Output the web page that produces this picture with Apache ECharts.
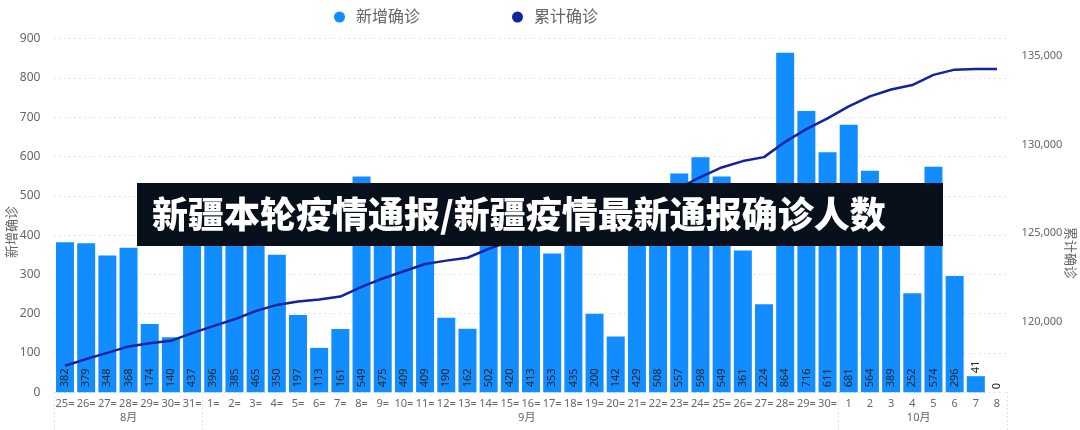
<!DOCTYPE html>
<html>
<head>
<meta charset="utf-8">
<script src="https://cdn.jsdelivr.net/npm/echarts@6/dist/echarts.min.js"></script>
<style>
  html, body { margin: 0; padding: 0; background: #fff; }
  #main { width: 1080px; height: 430px; }
</style>
</head>
<body>
<div id="main"></div>
<script>
// 日期（8月25日 - 10月8日）
var days = ['25=', '26=', '27=', '28=', '29=', '30=', '31=',
    '1=', '2=', '3=', '4=', '5=', '6=', '7=', '8=', '9=', '10=',
    '11=', '12=', '13=', '14=', '15=', '16=', '17=', '18=', '19=', '20=',
    '21=', '22=', '23=', '24=', '25=', '26=', '27=', '28=', '29=', '30=',
    '1', '2', '3', '4', '5', '6', '7', '8'];
var months = ['8月', '9月', '10月'];
var monthCenters = [3, 21.8, 40.3];
var monthBounds = [-0.5, 6.5, 36.5, 44.5];

// 新增确诊
var newCases = [382, 379, 348, 368, 174, 140, 437, 396, 385, 465, 350, 197, 113, 161,
    549, 475, 409, 409, 190, 162, 502, 420, 413, 353, 435, 200, 142, 429, 508, 557,
    598, 549, 361, 224, 864, 716, 611, 681, 564, 389, 252, 574, 296, 41, 0];

// 累计确诊
var totalCases = [117500, 117879, 118227, 118595, 118769, 118909, 119346, 119742, 120127,
    120592, 120942, 121139, 121252, 121413, 121962, 122437, 122846, 123255, 123445,
    123607, 124109, 124529, 124942, 125295, 125730, 125930, 126072, 126501, 127009,
    127566, 128164, 128713, 129074, 129298, 130162, 130878, 131489, 132170, 132734,
    133123, 133375, 133949, 134245, 134286, 134286];

var font = 'Noto Sans, Noto Sans CJK SC, sans-serif';
var grey = '#666';

var barData = newCases.map(function (v) {
    if (v < 100) {
        return { value: v, label: { position: 'top', distance: 3 } };
    }
    return v;
});

var myChart = echarts.init(document.getElementById('main'));

var option = {
    animation: false,
    textStyle: { fontFamily: font },
    legend: {
        left: 329,
        top: 4,
        itemGap: 92,
        icon: 'circle',
        itemWidth: 11,
        itemHeight: 11,
        textStyle: { color: grey, fontSize: 16, fontFamily: font, padding: [0, 0, 0, 6] },
        data: ['新增确诊', '累计确诊']
    },
    grid: {
        left: 54.4,
        right: 72.4,
        top: 38.6,
        bottom: 37.7
    },
    xAxis: [{
        type: 'category',
        data: days,
        axisLine: { show: false },
        axisTick: { show: false },
        axisLabel: { color: grey, fontSize: 11, margin: 6, interval: 0 }
    }, {
        type: 'value',
        position: 'bottom',
        min: -0.5,
        max: 44.5,
        axisLine: { show: false },
        splitLine: { show: false },
        axisTick: {
            show: true,
            customValues: monthBounds,
            length: 38,
            lineStyle: { color: '#ccc', type: [1, 3] }
        },
        axisLabel: {
            customValues: monthCenters,
            color: grey,
            fontSize: 11,
            margin: 20,
            formatter: function (v) {
                return months[monthCenters.indexOf(v)];
            }
        }
    }],
    yAxis: [{
        type: 'value',
        min: 0,
        max: 900,
        interval: 100,
        axisLine: { show: false },
        axisTick: { show: false },
        axisLabel: { color: grey, fontSize: 12, margin: 14 },
        splitLine: { lineStyle: { color: '#ccc', type: [1, 4] } }
    }, {
        type: 'value',
        min: 116000,
        max: 136000,
        interval: 1000,
        axisLine: { show: false },
        axisTick: { show: false },
        splitLine: { show: false },
        axisLabel: {
            color: grey,
            fontSize: 11,
            margin: 14,
            formatter: function (v) {
                return v % 5000 === 0 ? echarts.format.addCommas(v) : '';
            }
        }
    }],
    series: [{
        name: '新增确诊',
        type: 'bar',
        data: barData,
        barWidth: 18,
        itemStyle: { color: '#118DFF' },
        label: {
            show: true,
            position: 'insideBottom',
            distance: 5,
            rotate: 90,
            align: 'left',
            verticalAlign: 'middle',
            color: '#252423',
            fontSize: 11
        }
    }, {
        name: '累计确诊',
        type: 'line',
        yAxisIndex: 1,
        data: totalCases,
        symbol: 'none',
        itemStyle: { color: '#12239E' },
        lineStyle: { color: '#12239E', width: 2.5 },
        z: 3
    }],
    graphic: [{
        type: 'text',
        x: 6,
        y: 232,
        rotation: Math.PI / 2,
        style: {
            text: '新增确诊',
            fill: grey,
            font: '13px ' + font,
            align: 'center',
            verticalAlign: 'top'
        }
    }, {
        type: 'text',
        x: 1076,
        y: 253,
        rotation: -Math.PI / 2,
        style: {
            text: '累计确诊',
            fill: grey,
            font: '13px ' + font,
            align: 'center',
            verticalAlign: 'top'
        }
    }, {
        type: 'rect',
        shape: { x: 137, y: 183, width: 806, height: 63 },
        style: { fill: '#08111b' },
        z: 100
    }, {
        type: 'text',
        x: 152,
        y: 214,
        style: {
            text: '新疆本轮疫情通报/新疆疫情最新通报确诊人数',
            fill: '#fff',
            font: '900 36px Noto Sans CJK SC, sans-serif',
            verticalAlign: 'middle'
        },
        z: 101
    }]
};

myChart.setOption(option);
</script>
</body>
</html>
